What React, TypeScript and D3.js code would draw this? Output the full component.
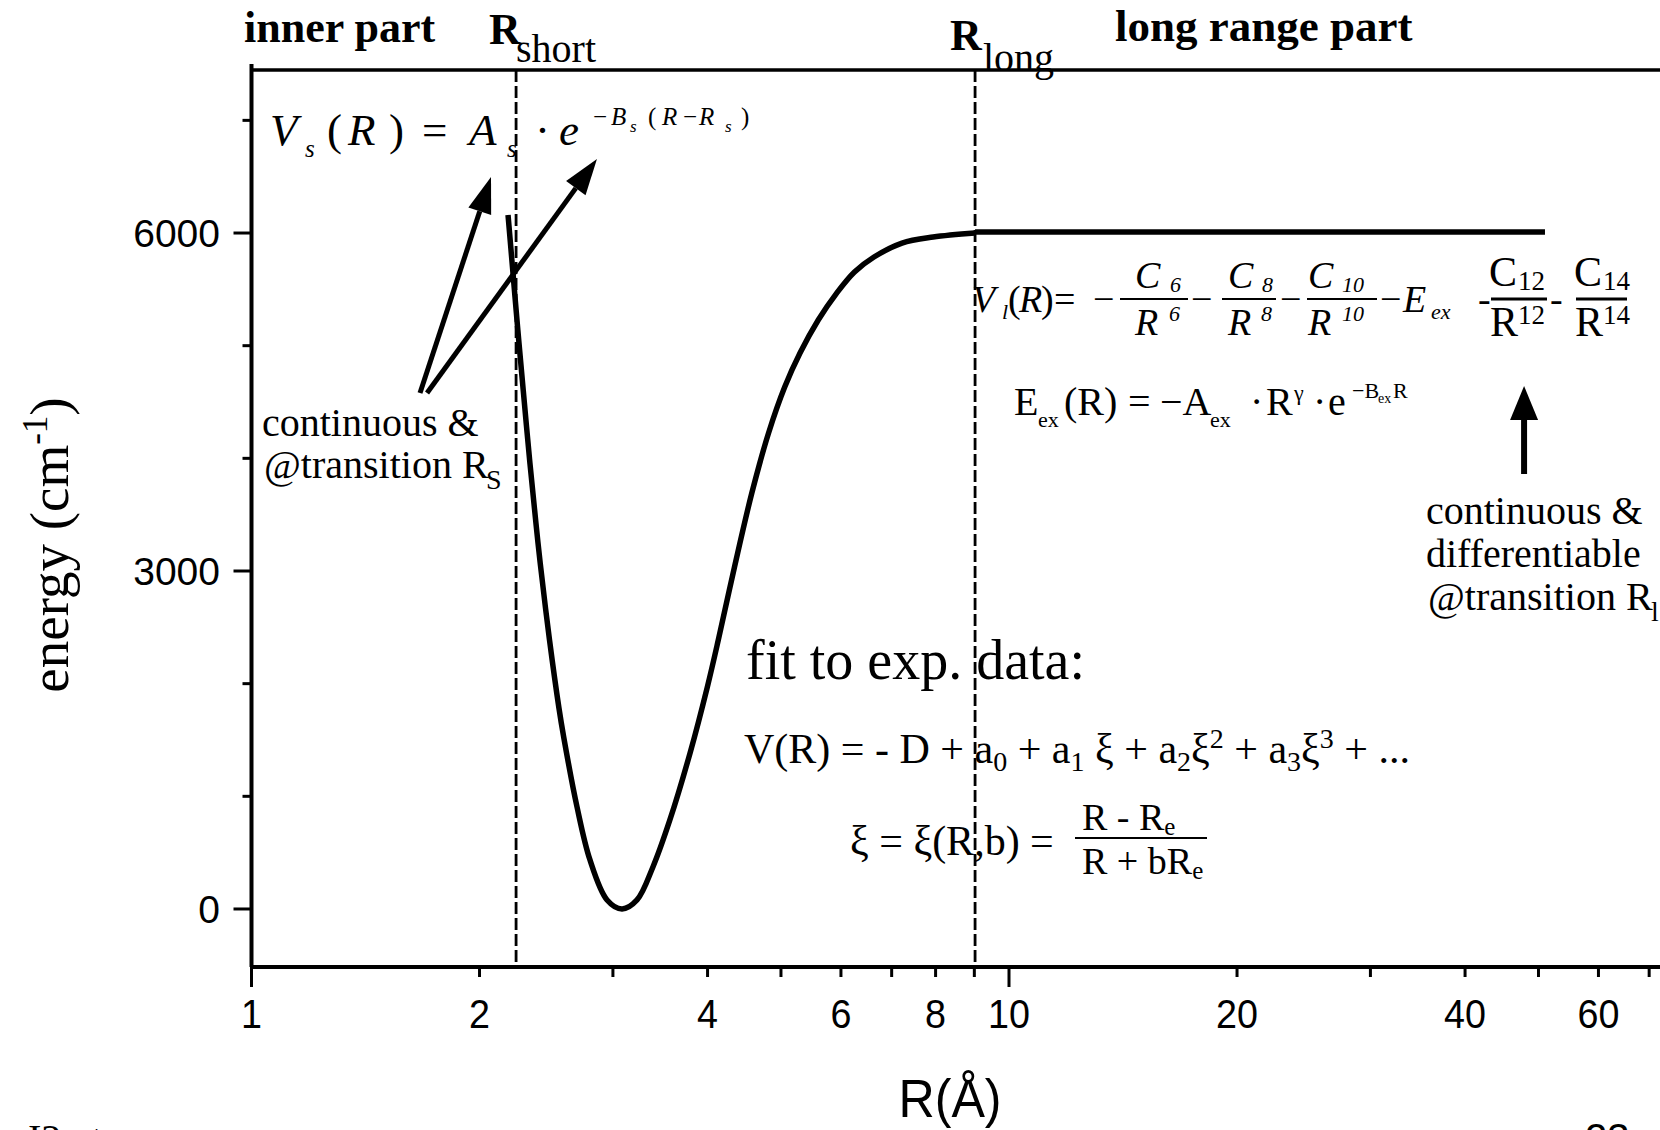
import React from "react";
import * as d3 from "d3";

// ---- data ----
const xTickValues = [1, 2, 3, 4, 5, 6, 7, 8, 9, 10, 20, 30, 40, 50, 60, 70, 80, 90, 100];
const xMajorTicks = [1, 10, 100];
const xTickLabels = [1, 2, 4, 6, 8, 10, 20, 40, 60];
const yMajorTicks = [0, 3000, 6000];
const yMinorTicks = [1000, 2000, 4000, 5000, 7000];

// potential curve (inner + fitted region), R in Å, energy in cm-1
const curveR = [2.181, 2.214, 2.247, 2.284, 2.331, 2.374, 2.405, 2.474, 2.546, 2.583, 2.69, 2.798, 2.947, 3.084,
  3.228, 3.388, 3.567, 3.793, 3.997, 4.133, 4.341, 4.576, 4.815, 5.057, 5.298, 5.6, 5.923, 6.252, 6.634, 7.223, 7.94, 9.02];
const curveE = [6160, 5645, 5139, 4606, 3958, 3426, 3071, 2388, 1784, 1527, 905, 435, 80, 0,
  80, 373, 790, 1385, 1970, 2388, 3035, 3692, 4225, 4633, 4935, 5228, 5467, 5654, 5787, 5911, 5964, 6000];
// long range part
const longR = [9.02, 51];
const longE = [6008, 6008];
// transition radii
const rShort = 2.235;
const rLong = 9.02;
// annotation arrows (data coordinates)
const arrowFromR = [1.669, 1.705, 47.86];
const arrowFromE = [4580, 4580, 3861];
const arrowToR = [2.071, 2.858, 47.86];
const arrowToE = [6497, 6657, 4642];

const SERIF = "'Liberation Serif', 'Times New Roman', Times, serif";
const SANS = "'Liberation Sans', Arial, Helvetica, sans-serif";

export default function App() {
  const W = 1660, H = 1130;
  const x = d3.scaleLog().domain([1, 100]).range([251.5, 251.5 + 2 * 757.5]);
  const y = d3.scaleLinear().domain([-515, 7447]).range([967, 70]);
  const x0 = x(1);
  const yb = y(-515);
  const yt = y(7447);

  const pts = curveR.map((r, i) => [r, curveE[i]] as [number, number]);
  const line = d3.line<[number, number]>().x(d => x(d[0])).y(d => y(d[1])).curve(d3.curveCatmullRom.alpha(0.5));
  const longPts = longR.map((r, i) => [r, longE[i]] as [number, number]);
  const line2 = d3.line<[number, number]>().x(d => x(d[0])).y(d => y(d[1]));

  const arrows = arrowFromR.map((r, i) => {
    const x1 = x(r), y1 = y(arrowFromE[i]);
    const x2 = x(arrowToR[i]), y2 = y(arrowToE[i]);
    const big = i === 2;
    const len = big ? 34 : 36;
    const hw = big ? 14 : 12;
    const dx = x2 - x1, dy = y2 - y1;
    const L = Math.hypot(dx, dy);
    const ux = dx / L, uy = dy / L;
    const bx = x2 - ux * len, by = y2 - uy * len;
    const px = -uy, py = ux;
    const head = `${x2},${y2} ${bx + px * hw},${by + py * hw} ${bx - px * hw},${by - py * hw}`;
    return { x1, y1, bx, by, head, sw: big ? 6 : 5 };
  });

  const it = { fontFamily: SERIF, fontStyle: "italic" } as const;
  const rm = { fontFamily: SERIF, fontStyle: "normal" } as const;

  return (
    <svg width={W} height={H} style={{ position: "absolute", left: 0, top: 0, background: "#fff" }}>
      <rect x={0} y={0} width={W} height={H} fill="#fff" />
      {/* dashed transition lines */}
      {[rShort, rLong].map((r, i) => (
        <line key={i} x1={x(r)} x2={x(r)} y1={yt} y2={yb} stroke="#000" strokeWidth={2.8} strokeDasharray="12 4" />
      ))}
      {/* frame */}
      <line x1={x0} x2={W} y1={yt} y2={yt} stroke="#000" strokeWidth={3.5} />
      <line x1={x0} x2={W} y1={yb} y2={yb} stroke="#000" strokeWidth={4} />
      <line x1={x0} x2={x0} y1={yt - 6} y2={yb} stroke="#000" strokeWidth={4} />
      {/* x ticks */}
      {xTickValues.map(v => (
        <line key={v} x1={x(v)} x2={x(v)} y1={yb} y2={yb + (xMajorTicks.includes(v) ? 20 : 10)} stroke="#000" strokeWidth={3} />
      ))}
      {xTickLabels.map(v => (
        <text key={v} x={x(v)} y={1028} textAnchor="middle" fontFamily={SANS} fontSize={41}
          transform={`translate(${x(v)},1028) scale(0.92,1) translate(${-x(v)},-1028)`}>{v}</text>
      ))}
      {/* y ticks */}
      {yMajorTicks.map(v => (
        <g key={v}>
          <line x1={x0 - 18} x2={x0} y1={y(v)} y2={y(v)} stroke="#000" strokeWidth={3} />
          <text x={220} y={y(v) + 14} textAnchor="end" fontFamily={SANS} fontSize={39}>{v}</text>
        </g>
      ))}
      {yMinorTicks.map(v => (
        <line key={v} x1={x0 - 9} x2={x0} y1={y(v)} y2={y(v)} stroke="#000" strokeWidth={3} />
      ))}
      {/* axis titles */}
      <text textAnchor="middle" fontFamily={SANS} fontSize={54}
        transform="translate(950,1117) scale(0.93,1)">R(Å)</text>
      <text transform="translate(68,545) rotate(-90)" textAnchor="middle" fontFamily={SERIF} fontSize={55}>
        energy (cm<tspan dy={-21} fontSize={35}>-1</tspan><tspan dy={21}>)</tspan>
      </text>
      {/* curves */}
      <path d={line(pts) || ""} fill="none" stroke="#000" strokeWidth={5.5} strokeLinejoin="round" />
      <path d={line2(longPts) || ""} fill="none" stroke="#000" strokeWidth={5.5} />
      {/* arrows */}
      {arrows.map((a, i) => (
        <g key={i}>
          <line x1={a.x1} y1={a.y1} x2={a.bx} y2={a.by} stroke="#000" strokeWidth={a.sw} />
          <polygon points={a.head} fill="#000" />
        </g>
      ))}
      {/* top labels */}
      <text x={244} y={42} fontFamily={SERIF} fontWeight="bold" fontSize={44}>inner part</text>
      <text x={489} y={44} fontFamily={SERIF} fontWeight="bold" fontSize={44}>R</text>
      <text x={516} y={62} fontFamily={SERIF} fontSize={40}>short</text>
      <text x={950} y={50} fontFamily={SERIF} fontWeight="bold" fontSize={44}>R</text>
      <text x={983} y={71} fontFamily={SERIF} fontSize={40}>long</text>
      <text x={1115} y={41} fontFamily={SERIF} fontWeight="bold" fontSize={45}>long range part</text>

      {/* V_s formula */}
      <g fontSize={45} {...it}>
        <text x={270} y={145}>V</text>
        <text x={305} y={157} fontSize={25}>s</text>
        <text x={327} y={145} style={rm}>(</text>
        <text x={348} y={145}>R</text>
        <text x={389} y={145} style={rm}>)</text>
        <text x={422} y={145} style={rm}>=</text>
        <text x={469} y={145}>A</text>
        <text x={507} y={157} fontSize={25}>s</text>
        <text x={535} y={145} style={rm}>·</text>
        <text x={559} y={145}>e</text>
        <text x={593} y={125} fontSize={25} style={rm}>−</text>
        <text x={611} y={125} fontSize={25}>B</text>
        <text x={630} y={132} fontSize={17}>s</text>
        <text x={648} y={125} fontSize={25} style={rm}>(</text>
        <text x={662} y={125} fontSize={25}>R</text>
        <text x={683} y={125} fontSize={25} style={rm}>−</text>
        <text x={699} y={125} fontSize={25}>R</text>
        <text x={725} y={132} fontSize={17}>s</text>
        <text x={741} y={125} fontSize={25} style={rm}>)</text>
      </g>

      {/* continuous @ R_s */}
      <g fontFamily={SERIF} fontSize={40}>
        <text x={262} y={436}>continuous &amp;</text>
        <text x={264} y={478}>@transition R</text>
        <text x={486} y={489} fontSize={28}>S</text>
      </g>

      {/* V_l formula */}
      <g fontSize={38} {...it}>
        <text x={972} y={312}>V</text>
        <text x={1002} y={319} fontSize={22}>l</text>
        <text x={1008} y={312} style={rm}>(</text>
        <text x={1019} y={312}>R</text>
        <text x={1041} y={312} style={rm}>)</text>
        <text x={1054} y={312} style={rm}>=</text>
        <text x={1093} y={312} style={rm}>−</text>
        <line x1={1120} x2={1188} y1={299} y2={299} stroke="#000" strokeWidth={2} />
        <text x={1135} y={288}>C</text>
        <text x={1170} y={292} fontSize={22}>6</text>
        <text x={1135} y={335}>R</text>
        <text x={1169} y={321} fontSize={22}>6</text>
        <text x={1191} y={312} style={rm}>−</text>
        <line x1={1222} x2={1276} y1={299} y2={299} stroke="#000" strokeWidth={2} />
        <text x={1228} y={288}>C</text>
        <text x={1262} y={292} fontSize={22}>8</text>
        <text x={1228} y={335}>R</text>
        <text x={1261} y={321} fontSize={22}>8</text>
        <text x={1280} y={312} style={rm}>−</text>
        <line x1={1307} x2={1377} y1={299} y2={299} stroke="#000" strokeWidth={2} />
        <text x={1308} y={288}>C</text>
        <text x={1342} y={292} fontSize={22}>10</text>
        <text x={1308} y={335}>R</text>
        <text x={1342} y={321} fontSize={22}>10</text>
        <text x={1380} y={312} style={rm}>−</text>
        <text x={1403} y={312}>E</text>
        <text x={1431} y={319} fontSize={22}>ex</text>
        <text x={1478} y={312} style={rm}>-</text>
        <line x1={1491} x2={1547} y1={299} y2={299} stroke="#000" strokeWidth={3} />
        <text x={1489} y={286} style={rm} fontSize={42}>C</text>
        <text x={1518} y={290} style={rm} fontSize={27}>12</text>
        <text x={1490} y={336} style={rm} fontSize={42}>R</text>
        <text x={1518} y={324} style={rm} fontSize={27}>12</text>
        <text x={1550} y={312} style={rm}>-</text>
        <line x1={1576} x2={1627} y1={299} y2={299} stroke="#000" strokeWidth={3} />
        <text x={1574} y={286} style={rm} fontSize={42}>C</text>
        <text x={1603} y={290} style={rm} fontSize={27}>14</text>
        <text x={1575} y={336} style={rm} fontSize={42}>R</text>
        <text x={1603} y={324} style={rm} fontSize={27}>14</text>
      </g>

      {/* E_ex formula */}
      <g fontFamily={SERIF} fontSize={40}>
        <text x={1014} y={415}>E</text>
        <text x={1038} y={427} fontSize={22}>ex</text>
        <text x={1064} y={415}>(R)</text>
        <text x={1128} y={415}>=</text>
        <text x={1160} y={415}>−A</text>
        <text x={1210} y={427} fontSize={22}>ex</text>
        <text x={1250} y={415}>·</text>
        <text x={1266} y={415}>R</text>
        <text x={1294} y={400} fontSize={22}>γ</text>
        <text x={1313} y={415}>·</text>
        <text x={1328} y={415}>e</text>
        <text x={1352} y={398} fontSize={22}>−B</text>
        <text x={1378} y={403} fontSize={14}>ex</text>
        <text x={1393} y={398} fontSize={22}>R</text>
      </g>

      {/* continuous & differentiable @ R_l */}
      <g fontFamily={SERIF} fontSize={40}>
        <text x={1426} y={524}>continuous &amp;</text>
        <text x={1426} y={567}>differentiable</text>
        <text x={1428} y={610}>@transition R</text>
        <text x={1651} y={621} fontSize={28}>l</text>
      </g>

      {/* fit text */}
      <g fontFamily={SERIF}>
        <text x={746} y={679} fontSize={56}>fit to exp. data:</text>
        <text x={744} y={763} fontSize={42}>
          V(R) = - D + a<tspan fontSize={28} dy={8}>0</tspan><tspan dy={-8}> + a</tspan>
          <tspan fontSize={28} dy={8}>1</tspan><tspan dy={-8}> ξ + a</tspan>
          <tspan fontSize={28} dy={8}>2</tspan><tspan dy={-8}>ξ</tspan>
          <tspan fontSize={28} dy={-15}>2</tspan><tspan dy={15}> + a</tspan>
          <tspan fontSize={28} dy={8}>3</tspan><tspan dy={-8}>ξ</tspan>
          <tspan fontSize={28} dy={-15}>3</tspan><tspan dy={15}> + ...</tspan>
        </text>
        <text x={850} y={855} fontSize={42}>ξ = ξ(R,b) =</text>
        <line x1={1075} x2={1207} y1={838} y2={838} stroke="#000" strokeWidth={2} />
        <text x={1082} y={830} fontSize={38}>R - R<tspan fontSize={25} dy={5}>e</tspan></text>
        <text x={1082} y={874} fontSize={38}>R + bR<tspan fontSize={25} dy={5}>e</tspan></text>
      </g>

      {/* page fragments at the bottom edge */}
      <text x={28} y={1152} fontFamily={SERIF} fontSize={40}>I2   ut</text>
      <text x={1585} y={1152} fontFamily={SANS} fontSize={40}>23</text>
    </svg>
  );
}
